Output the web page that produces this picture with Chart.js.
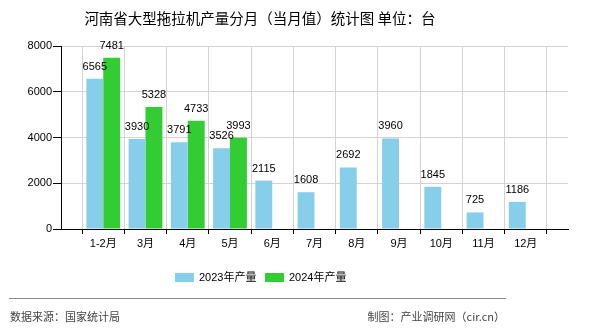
<!DOCTYPE html>
<html>
<head>
<meta charset="utf-8">
<script src="https://cdn.jsdelivr.net/npm/chart.js@4"></script>
<style>
  html, body { margin:0; padding:0; background:#ffffff; }
  #wrap { position:relative; width:590px; height:330px; overflow:hidden; background:#ffffff; }
  #c { position:absolute; left:0; top:0; }
  .txt { position:absolute; white-space:nowrap; font-family:"Liberation Sans","Noto Sans CJK SC",sans-serif; }
  #title { left:0; width:520px; top:8px; line-height:20px; text-align:center; font-size:14.5px; color:#000; font-family:"Noto Sans CJK SC",sans-serif; }
  .lbox { position:absolute; width:19px; height:9px; top:273px; }
  .ltxt { top:270px; line-height:14px; font-size:11px; color:#000; }
  #sep { position:absolute; left:9px; width:497px; top:298px; height:1px; background:#8a8a8a; }
  .foot { top:309px; line-height:14px; font-size:11px; color:#444; font-family:"Noto Sans CJK SC",sans-serif; }
</style>
</head>
<body>
<div id="wrap">
  <canvas id="c" width="590" height="330"></canvas>
  <div id="title" class="txt">河南省大型拖拉机产量分月（当月值）统计图 单位：台</div>
  <div class="lbox" style="left:175px;background:#87CEEB"></div>
  <div class="txt ltxt" id="lt1" style="left:199px"></div>
  <div class="lbox" style="left:265px;background:#32CD32"></div>
  <div class="txt ltxt" id="lt2" style="left:289px"></div>
  <div id="sep"></div>
  <div class="txt foot" style="left:10px">数据来源：国家统计局</div>
  <div class="txt foot" style="right:85px">制图：产业调研网（cir.cn）</div>
</div>
<script>
const categories = ['1-2月','3月','4月','5月','6月','7月','8月','9月','10月','11月','12月'];
const values2023 = [6565,3930,3791,3526,2115,1608,2692,3960,1845,725,1186];
const values2024 = [7481,5328,4733,3993];
const yTicks = [0,2000,4000,6000,8000];
const seriesNames = ['2023年产量','2024年产量'];
const seriesColors = ['#87CEEB','#32CD32'];

document.getElementById('lt1').textContent = seriesNames[0];
document.getElementById('lt2').textContent = seriesNames[1];

// pad one empty slot at each end so categories sit at 1..11 on a 0..12 axis
const labels = [''].concat(categories, ['']);
function pad(arr){
  const out = [null].concat(arr);
  while (out.length < labels.length) out.push(null);
  return out;
}

const FONT = '"Liberation Sans","Noto Sans CJK SC",sans-serif';

const valueLabels = {
  id:'valueLabels',
  afterDatasetsDraw(chart){
    const ctx = chart.ctx;
    ctx.save();
    ctx.font = '11px ' + FONT;
    ctx.fillStyle = '#000';
    ctx.textAlign = 'center';
    ctx.textBaseline = 'alphabetic';
    chart.data.datasets.forEach((ds, i) => {
      const meta = chart.getDatasetMeta(i);
      meta.data.forEach((el, j) => {
        const v = ds.data[j];
        if (v === null || v === undefined) return;
        ctx.fillText(String(v), el.x, el.y - 9);
      });
    });
    ctx.restore();
  }
};

new Chart(document.getElementById('c'), {
  type:'bar',
  data:{
    labels: labels,
    datasets:[
      { label: seriesNames[0], data: pad(values2023), backgroundColor: seriesColors[0], borderWidth:0, categoryPercentage:0.8, barPercentage:1.0 },
      { label: seriesNames[1], data: pad(values2024), backgroundColor: seriesColors[1], borderWidth:0, categoryPercentage:0.8, barPercentage:1.0 }
    ]
  },
  options:{
    responsive:false,
    animation:false,
    devicePixelRatio:1,
    layout:{ padding:{ left:0, right:22, top:46, bottom:71 } },
    plugins:{ legend:{ display:false }, tooltip:{ enabled:false }, title:{ display:false } },
    scales:{
      x:{
        type:'category',
        offset:false,
        grid:{ display:true, color:'#d3d3d3', lineWidth:1, drawTicks:true, tickColor:'#000', tickLength:5 },
        border:{ display:true, color:'#000', width:1 },
        ticks:{ autoSkip:false, maxRotation:0, padding:3, color:'#000', font:{ size:11, family:FONT } },
        afterFit(s){ s.height = 30; }
      },
      y:{
        min:0, max:8000,
        afterBuildTicks(s){ s.ticks = yTicks.map(v => ({ value:v })); },
        grid:{ display:true, color:'#d3d3d3', lineWidth:1, drawTicks:true, tickColor:'#000', tickLength:8 },
        border:{ display:true, color:'#000', width:1 },
        ticks:{ padding:1, color:'#000', font:{ size:11, family:FONT }, callback:(v) => String(v) },
        afterFit(s){ s.width = 61; }
      }
    }
  },
  plugins:[valueLabels]
});
</script>
</body>
</html>
